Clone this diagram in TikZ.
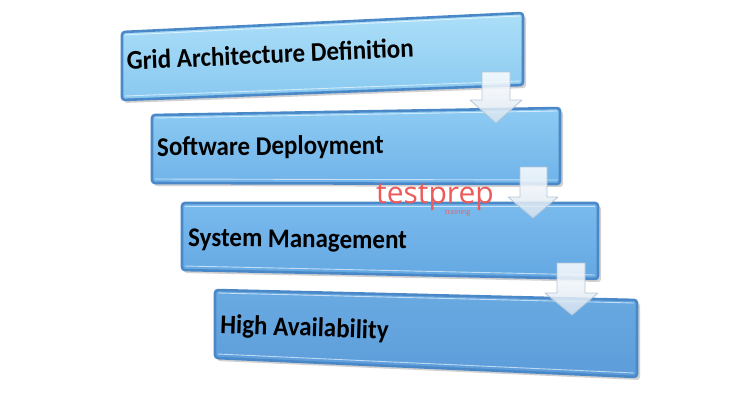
\documentclass[tikz,border=0pt]{standalone}
\usepackage{fontspec}
\setmainfont{Carlito}
\newfontfamily\wmfont{Open Sans}
\usetikzlibrary{calc}
\definecolor{edgeblue}{HTML}{4A88C8}
\definecolor{wmred}{HTML}{EE5A5A}
\definecolor{arrowedge}{HTML}{B4C6D8}
\definecolor{arrowlow}{HTML}{D6E3EF}
\definecolor{bAt}{HTML}{ACDFF8}
\definecolor{bAb}{HTML}{88C8F0}
\definecolor{bBt}{HTML}{8DCBF3}
\definecolor{bBb}{HTML}{70B3E9}
\definecolor{bCt}{HTML}{7ABBEE}
\definecolor{bCb}{HTML}{64A8E2}
\definecolor{bDt}{HTML}{6AAAE2}
\definecolor{bDb}{HTML}{5C9DDA}
\tikzset{
  boxshadow/.style={fill=black!60, opacity=0.3, rounded corners=3pt},
  boxedge/.style={draw=edgeblue, line width=2.6pt, rounded corners=3pt},
  boxshine/.style={draw=white, opacity=0.6, line width=0.9pt},
  label/.style={font=\bfseries\fontsize{25}{27}\selectfont, anchor=base west, inner sep=0pt, text=black, yscale=1.08},
  downarrow/.style={top color=white, bottom color=arrowlow, fill opacity=0.85, draw=arrowedge, line width=0.8pt, line join=round},
}
\newcommand{\bluebox}[7]{%
  % #1 name, #2 TL, #3 TR, #4 BR, #5 BL, #6 top colour, #7 bottom colour
  \coordinate (#1-tl) at #2; \coordinate (#1-tr) at #3;
  \coordinate (#1-br) at #4; \coordinate (#1-bl) at #5;
  \path[boxshadow] ($(#1-tl)+(2,3)$) -- ($(#1-tr)+(3,3)$) -- ($(#1-br)+(3,3)$) -- ($(#1-bl)+(2,3)$) -- cycle;
  \shade[top color=#6, bottom color=#7, rounded corners=3pt] (#1-tl) -- (#1-tr) -- (#1-br) -- (#1-bl) -- cycle;
  \path[boxedge] (#1-tl) -- (#1-tr) -- (#1-br) -- (#1-bl) -- cycle;
  \draw[boxshine] ($(#1-bl)+(3,-4)$) -- ($(#1-br)+(-3,-4)$);
  \draw[boxshine] ($(#1-tl)+(3,3)$) -- ($(#1-tr)+(-3,3)$);
}
\begin{document}
\begin{tikzpicture}[x=1pt,y=-1pt]
\useasboundingbox (0,0) rectangle (750,400);

\bluebox{b1}{(122,32)}{(523,13)}{(523,85)}{(122,100)}{bAt}{bAb}
\bluebox{b2}{(152,115)}{(560,108)}{(560,184)}{(152,183)}{bBt}{bBb}
\bluebox{b3}{(182,203)}{(598,203)}{(598,279)}{(182,270)}{bCt}{bCb}
\bluebox{b4}{(215,290)}{(637,300)}{(637,377)}{(215,358)}{bDt}{bDb}

\node[label, rotate=2.4] (t1) at (127,70) {Grid Architecture Definition};
\node[label, rotate=0.5] (t2) at (157,156) {Software Deployment};
\node[label, rotate=-0.7] (t3) at (188,246) {System Management};
\node[label, rotate=-2] (t4) at (220,333) {High Availability};

% down arrows
\path[downarrow] (482,72) -- (510,72) -- (510,100) -- (522,100) -- (496,123) -- (470,100) -- (482,100) -- cycle;
\path[downarrow] (520,167) -- (547,167) -- (547,197) -- (558,197) -- (533,218) -- (508,197) -- (520,197) -- cycle;
\path[downarrow] (557,263) -- (585,263) -- (585,293) -- (598,293) -- (572,315) -- (545,293) -- (557,293) -- cycle;

% watermark
\node[font=\wmfont\fontsize{30}{30}\selectfont, text=wmred, anchor=base west, inner sep=0pt] (wm) at (376,203) {testprep};
\node[font=\wmfont\fontsize{7}{7}\selectfont, text=wmred, anchor=base west, inner sep=0pt] (wm2) at (445,214) {training};
\end{tikzpicture}
\end{document}
